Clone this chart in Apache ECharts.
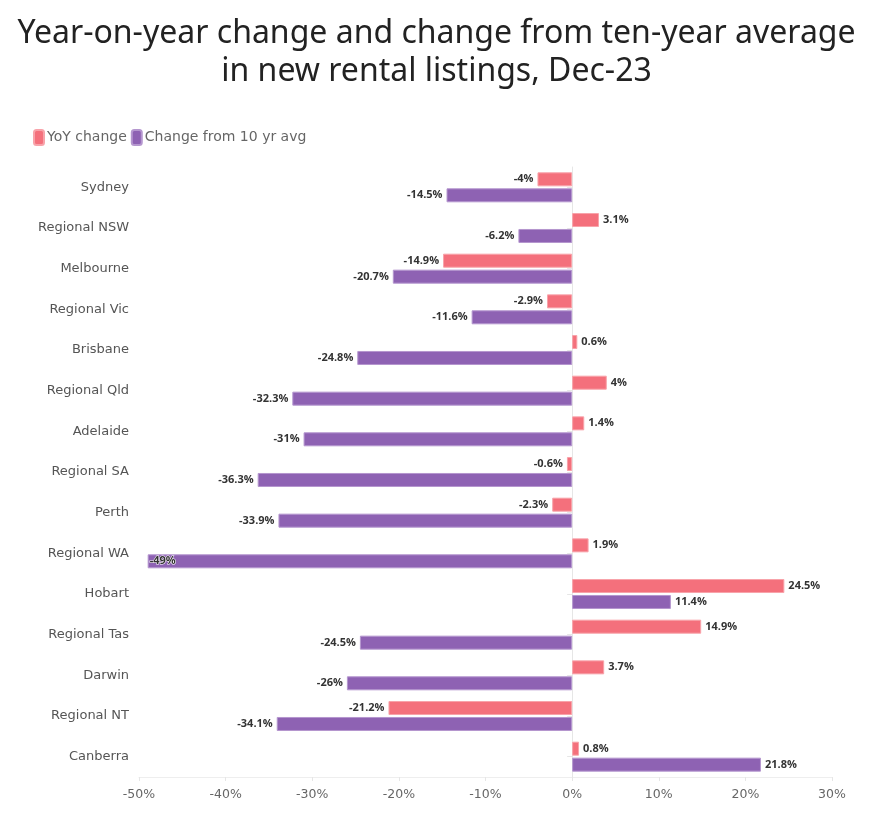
<!DOCTYPE html>
<html>
<head>
<meta charset="utf-8">
<script src="https://cdn.jsdelivr.net/npm/echarts@6/dist/echarts.min.js"></script>
<style>
html,body{margin:0;padding:0;background:#fff;}
#chart{width:873px;height:814px;}
</style>
</head>
<body>
<div id="chart"></div>
<script>
const categories = ['Sydney','Regional NSW','Melbourne','Regional Vic','Brisbane','Regional Qld','Adelaide','Regional SA','Perth','Regional WA','Hobart','Regional Tas','Darwin','Regional NT','Canberra'];
const yoyChange = [-4, 3.1, -14.9, -2.9, 0.6, 4, 1.4, -0.6, -2.3, 1.9, 24.5, 14.9, 3.7, -21.2, 0.8];
const tenYrChange = [-14.5, -6.2, -20.7, -11.6, -24.8, -32.3, -31, -36.3, -33.9, -49, 11.4, -24.5, -26, -34.1, 21.8];
const xTicks = [-50, -40, -30, -20, -10, 0, 10, 20, 30];

const chart = echarts.init(document.getElementById('chart'));
const labelBase = {
  show: true,
  fontFamily: 'Open Sans',
  fontSize: 11,
  fontWeight: 'bold',
  color: '#333',
  distance: 4,
  formatter: p => p.value + '%'
};
function mkData(arr) {
  return arr.map(v => {
    const item = { value: v, label: { position: v < 0 ? 'left' : 'right' } };
    if (v <= -45) item.label = { position: 'insideLeft', distance: 2, textBorderColor: '#fff', textBorderWidth: 1 };
    return item;
  });
}
chart.setOption({
  animation: false,
  title: {
    text: 'Year-on-year change and change from ten-year average\nin new rental listings, Dec-23',
    left: 'center',
    top: 10,
    textStyle: { fontFamily: 'Noto Sans', fontSize: 32, fontWeight: 'normal', color: '#222', lineHeight: 38 }
  },
  legend: {
    left: 28,
    top: 124,
    itemWidth: 10,
    itemHeight: 15,
    itemGap: 4,
    icon: 'roundRect',
    textStyle: { fontFamily: 'DejaVu Sans', fontSize: 14, color: '#666', padding: [0, 0, 0, -2] },
    data: ['YoY change', 'Change from 10 yr avg']
  },
  grid: { left: 139, right: 41, top: 167, bottom: 37, containLabel: false },
  xAxis: {
    type: 'value',
    min: xTicks[0],
    max: xTicks[xTicks.length - 1],
    interval: 10,
    axisLine: { show: true, lineStyle: { color: '#eee' } },
    axisTick: { show: true, length: 4, lineStyle: { color: '#e6e6e6' } },
    splitLine: { show: false },
    axisLabel: { formatter: v => v + '%', fontFamily: 'DejaVu Sans', fontSize: 12.5, color: '#666', margin: 11 }
  },
  yAxis: {
    type: 'category',
    data: categories,
    inverse: true,
    axisLine: { show: true, lineStyle: { color: '#e6e6e6' } },
    axisTick: { show: true, alignWithLabel: true, length: 5, lineStyle: { color: '#e6e6e6' } },
    axisLabel: { fontFamily: 'DejaVu Sans', fontSize: 13, color: '#555', margin: 10 }
  },
  series: [
    {
      name: 'YoY change',
      type: 'bar',
      data: mkData(yoyChange),
      barWidth: 14,
      barGap: '14%',
      itemStyle: { color: '#F4707C', borderColor: '#F8A3AA', borderWidth: 1 },
      label: labelBase
    },
    {
      name: 'Change from 10 yr avg',
      type: 'bar',
      data: mkData(tenYrChange),
      barWidth: 14,
      barGap: '14%',
      itemStyle: { color: '#8E62B3', borderColor: '#B597CF', borderWidth: 1 },
      label: labelBase
    }
  ]
});
</script>
</body>
</html>
